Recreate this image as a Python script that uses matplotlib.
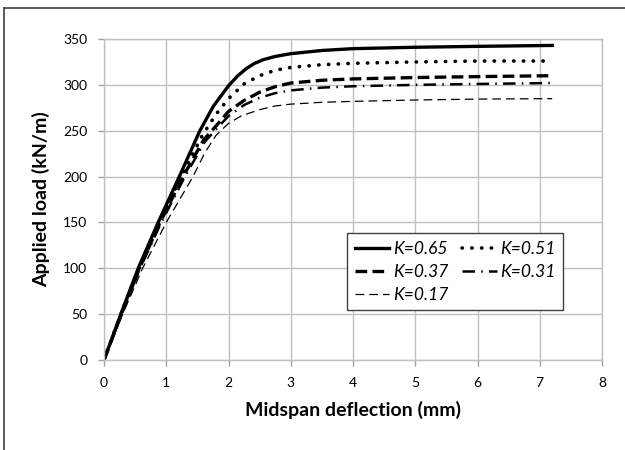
import numpy as np
import matplotlib.pyplot as plt
from matplotlib.lines import Line2D

# Load-deflection curves for each K value (deflection in mm, load in kN/m)
defl_065 = [0.0, 0.27, 0.55, 0.87, 1.21, 1.54, 1.76, 2.0, 2.15, 2.29, 2.42, 2.56, 2.75, 3.0, 3.5, 4.0, 5.0, 6.0, 7.2]
load_065 = [0, 50, 100, 150, 200, 250, 277, 299, 310, 318, 323.5, 327.5, 331, 334, 337.5, 339.5, 341, 342, 343]

defl_051 = [0.0, 0.27, 0.56, 0.88, 1.24, 1.58, 1.8, 2.0, 2.25, 2.5, 2.75, 3.0, 3.5, 4.0, 5.0, 6.0, 7.2]
load_051 = [0, 50, 100, 150, 200, 245, 268, 285, 301, 310, 316, 319, 322, 323.5, 325, 326, 326]

defl_037 = [0.0, 0.28, 0.57, 0.9, 1.27, 1.6, 1.81, 2.0, 2.25, 2.5, 2.75, 3.0, 3.5, 4.0, 5.0, 6.0, 7.2]
load_037 = [0, 50, 100, 150, 200, 240, 256, 271, 283, 292, 298, 302, 305, 306.5, 308, 309, 310]

defl_031 = [0.0, 0.28, 0.58, 0.92, 1.3, 1.62, 1.82, 2.0, 2.25, 2.5, 2.75, 3.0, 3.5, 4.0, 5.0, 6.0, 7.2]
load_031 = [0, 50, 100, 150, 200, 238, 253, 266, 278, 286, 291, 294, 297, 298.5, 300, 301, 302]

defl_017 = [0.0, 0.3, 0.62, 1.0, 1.43, 1.62, 1.8, 2.0, 2.2, 2.5, 2.75, 3.0, 3.5, 4.0, 5.0, 6.0, 7.2]
load_017 = [0, 50, 100, 150, 200, 226, 245, 258, 266, 273, 277, 279, 281, 282, 283.5, 284.5, 285]

labels = ['K=0.65', 'K=0.51', 'K=0.37', 'K=0.31', 'K=0.17']

plt.rcParams['font.family'] = ['Lato', 'DejaVu Sans']

fig = plt.figure(figsize=(6.25, 4.5), dpi=100)
ax = fig.add_axes([0.1664, 0.2, 0.7968, 0.7133])

# frame around the figure (left and top edges)
fig.add_artist(Line2D([0.0064, 0.0064], [0, 0.982], color='#404040', lw=1.2, transform=fig.transFigure))
fig.add_artist(Line2D([0.0064, 1.0], [0.982, 0.982], color='#404040', lw=1.2, transform=fig.transFigure))

styles = [
    dict(ls='-', lw=2.4),
    dict(ls=(0, (0.1, 2.6)), lw=2.6, dash_capstyle='round'),
    dict(ls=(0, (3.5, 1.6)), lw=2.4),
    dict(ls=(0, (5, 2.5, 0.6, 2.5)), lw=1.8),
    dict(ls=(0, (7, 4)), lw=0.9),
]
series = [(defl_065, load_065), (defl_051, load_051), (defl_037, load_037),
          (defl_031, load_031), (defl_017, load_017)]
handles = []
for (x, y), lab, st in zip(series, labels, styles):
    h, = ax.plot(x, y, color='black', label=lab, solid_joinstyle='round', **st)
    handles.append(h)

ax.set_xlim(0, 8)
ax.set_ylim(0, 350)
ax.set_xticks(range(0, 9))
ax.set_yticks(range(0, 351, 50))
ax.grid(True, color='#c0c0c0', lw=1.0)
ax.set_axisbelow(True)
for s in ax.spines.values():
    s.set_color('#c0c0c0')
    s.set_linewidth(1.0)
ax.tick_params(colors='#a0a0a0', labelcolor='black', labelsize=10, length=4, width=1.0)
ax.tick_params(axis='x', pad=8)
ax.tick_params(axis='y', pad=8)

ax.set_xlabel('Midspan deflection (mm)', fontsize=14, fontweight='bold', labelpad=9)
ax.set_ylabel('Applied load (kN/m)', fontsize=14, fontweight='bold', labelpad=9)

order = [0, 2, 4, 1, 3]
leg = ax.legend([handles[i] for i in order], [labels[i] for i in order], ncol=2,
                loc='upper left', bbox_to_anchor=(0.47, 0.423),
                prop={'style': 'italic', 'size': 12.5}, handlelength=2.0,
                handletextpad=0.2, columnspacing=0.8, labelspacing=0.4,
                borderpad=0.45, fancybox=False, framealpha=1, edgecolor='#404040')
leg.get_frame().set_linewidth(1.0)

fig.savefig('out.png', dpi=100)
